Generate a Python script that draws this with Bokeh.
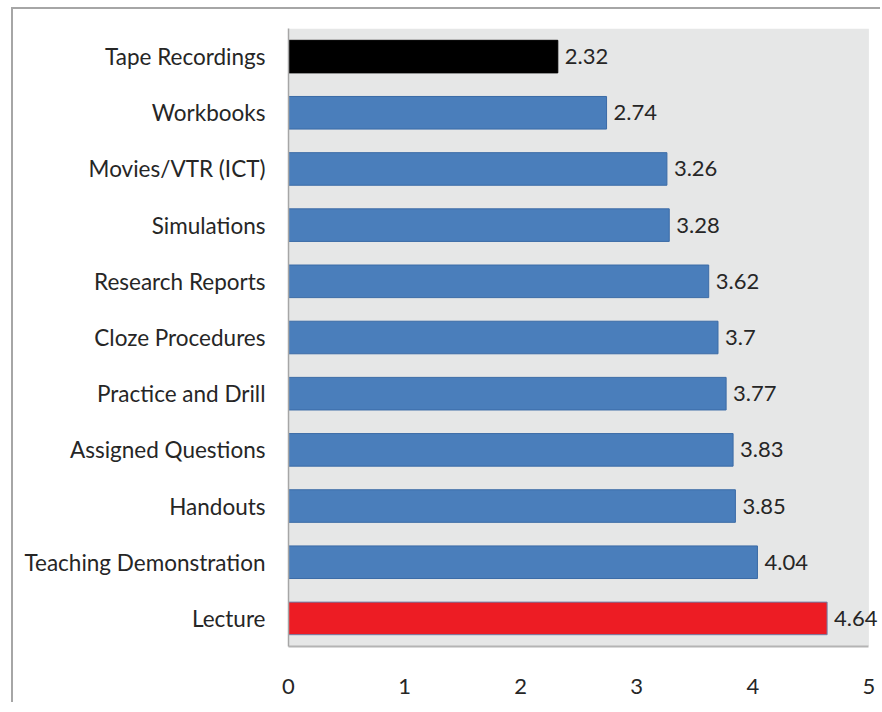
from bokeh.plotting import figure
from bokeh.models import ColumnDataSource, LabelSet, Range1d, FactorRange, BoxAnnotation
from bokeh.core.properties import value
from bokeh.embed import file_html
from bokeh.resources import INLINE

categories = ["Tape Recordings", "Workbooks", "Movies/VTR (ICT)", "Simulations",
              "Research Reports", "Cloze Procedures", "Practice and Drill",
              "Assigned Questions", "Handouts", "Teaching Demonstration", "Lecture"]
values = [2.32, 2.74, 3.26, 3.28, 3.62, 3.7, 3.77, 3.83, 3.85, 4.04, 4.64]
value_labels = ["2.32", "2.74", "3.26", "3.28", "3.62", "3.7", "3.77", "3.83", "3.85", "4.04", "4.64"]
x_ticks = [0, 1, 2, 3, 4, 5]
x_min, x_max = 0, 5

fills = ["#000000"] + ["#4A7EBB"] * 9 + ["#ED1C24"]
lines = ["#000000"] + ["#3B6BA6"] * 9 + ["#6F7FA8"]

src = ColumnDataSource(dict(cat=categories, val=values, lab=value_labels,
                            fill=fills, line=lines))

FONT = "Lato"

# x range runs a little past 5 so the last value label has room; the gray
# plot area itself is drawn only over 0..5
p = figure(width=869, height=695, output_backend="svg", toolbar_location=None,
           y_range=FactorRange(factors=list(reversed(categories))),
           x_range=Range1d(x_min, 5.1),
           min_border_left=275, min_border_right=2, min_border_top=19,
           min_border_bottom=58)
# outer picture frame (top and left edges)
p.styles = {"border-top": "2px solid #A6A6A6", "border-left": "2px solid #A6A6A6"}
p.margin = (7, 0, 0, 11)

p.background_fill_color = "white"
p.border_fill_color = "white"
p.outline_line_color = None
p.grid.grid_line_color = None

plot_area = BoxAnnotation(left=x_min, right=x_max, fill_color="#E6E7E7", fill_alpha=1,
                          line_color=None, level="underlay")
p.add_layout(plot_area)

p.hbar(y="cat", right="val", left=0, height=0.58, source=src,
       fill_color="fill", line_color="line", line_width=1)

labels = LabelSet(x="val", y="cat", text="lab", source=src, x_offset=7,
                  text_baseline="middle", text_align="left",
                  text_font=value(FONT), text_font_size="22px", text_color="#262626")
p.add_layout(labels)

p.xaxis.ticker = x_ticks
p.xaxis.bounds = (x_min, x_max)
p.xaxis.axis_line_color = "#B4B4B4"
p.xaxis.axis_line_width = 2
p.xaxis.major_tick_line_color = None
p.xaxis.minor_tick_line_color = None
p.xaxis.major_label_standoff = 26
p.xaxis.major_label_text_font = FONT
p.xaxis.major_label_text_font_size = "22px"
p.xaxis.major_label_text_color = "#262626"

p.yaxis.axis_line_color = "#A6A6A6"
p.yaxis.axis_line_width = 1.5
p.yaxis.major_tick_line_color = None
p.yaxis.minor_tick_line_color = None
p.yaxis.major_label_standoff = 17
p.yaxis.major_label_text_font = FONT
p.yaxis.major_label_text_font_size = "22.5px"
p.yaxis.major_label_text_color = "#262626"

open("out.html", "w").write(file_html(p, INLINE))
